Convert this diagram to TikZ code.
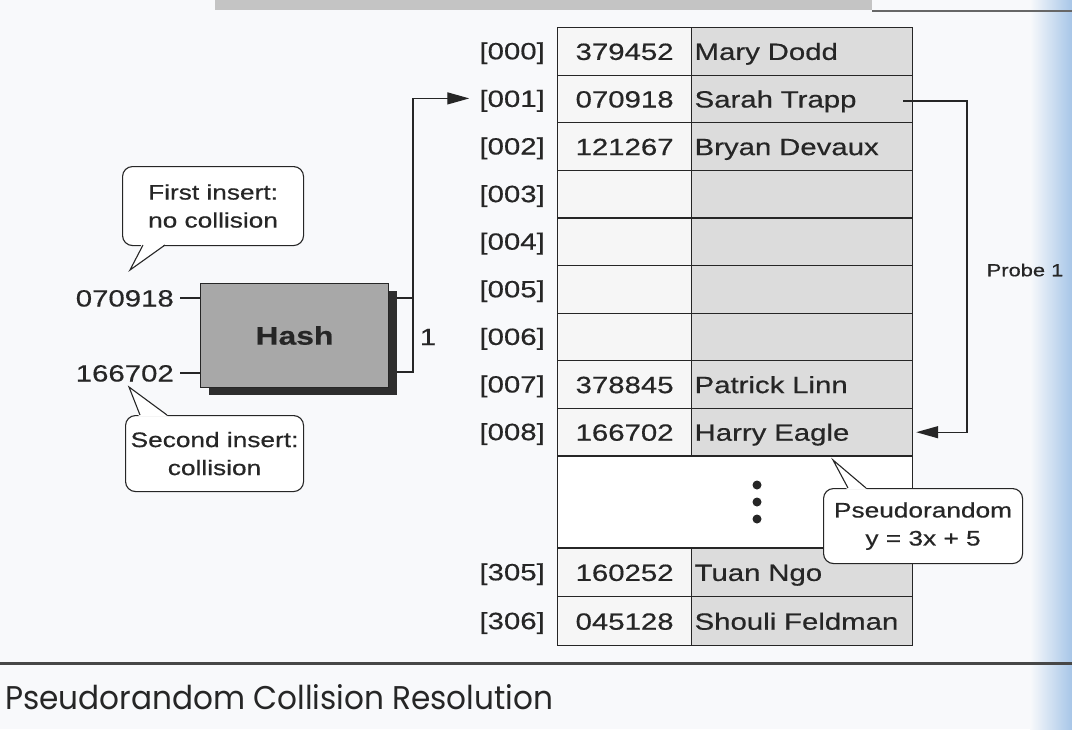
\documentclass[tikz,border=0pt]{standalone}
\usepackage{fontspec}
\setmainfont{Liberation Sans}[FakeStretch=1.25,FakeBold=0.5]
\newfontfamily\capfont{Poppins}
\usepackage{graphicx}
\usetikzlibrary{arrows.meta,calc}
\definecolor{namefill}{HTML}{DCDCDC}
\definecolor{numfill}{HTML}{F6F6F6}
\definecolor{hashfill}{HTML}{A8A8A8}
\definecolor{shadowc}{HTML}{2E2E2E}
\definecolor{ink}{HTML}{262626}
\definecolor{paper}{HTML}{F8F9FB}
\definecolor{scanblue}{HTML}{A7C6E8}
\definecolor{bandgray}{HTML}{C4C4C4}
\begin{document}
\begin{tikzpicture}[x=1pt,y=-1pt,
  every node/.style={text=ink},
  tabtext/.style={font=\fontsize{23.5}{26}\selectfont, text height=17pt, text depth=0pt},
  numcell/.style={draw=ink, line width=1.2pt, fill=numfill, minimum width=134pt, minimum height=47.6pt, inner sep=0pt, anchor=north west, tabtext},
  namecell/.style={draw=ink, line width=1.2pt, fill=namefill, minimum height=47.6pt, text width=215pt, inner xsep=3pt, inner ysep=0pt, align=left, anchor=north west, tabtext},
  idxlabel/.style={anchor=east, inner sep=0pt, tabtext},
  callout/.style={draw=ink, line width=1.1pt, fill=white, rounded corners=10pt, inner sep=0pt, align=center, anchor=north west, font=\fontsize{21}{28}\selectfont},
  conn/.style={draw=ink, line width=1.3pt},
  tip/.style={-{Triangle[length=22pt,width=12pt]}},
  pointer/.style={draw=ink, line width=1.1pt}
]
% background
\fill[paper] (0,0) rectangle (1072,729);
\shade[left color=paper, right color=scanblue] (1030,0) rectangle (1072,729);
\useasboundingbox (0,0) rectangle (1072,729);
\fill[bandgray] (215,0) rectangle (872,10);
\draw[ink!70, line width=1.5pt] (872,11) -- (1072,11);

% table rows 000-008
\foreach \i/\idx/\num/\nm in {0/000/379452/Mary Dodd,1/001/070918/Sarah Trapp,2/002/121267/Bryan Devaux,3/003//,4/004//,5/005//,6/006//,7/007/378845/Patrick Linn,8/008/166702/Harry Eagle}{
  \pgfmathsetmacro\ty{27+\i*47.6}
  \node[numcell] (num\i) at (557,\ty) {\num};
  \node[namecell] (nm\i) at (691,\ty) {\nm};
  \node[idxlabel] (idx\i) at (545,\ty+23.8) {[\idx]};
}
% ellipsis band
\node[draw=ink, line width=1.2pt, fill=white, minimum width=355pt, minimum height=92pt, inner sep=0pt, anchor=north west] (gap) at (557,455.4) {};
\fill[ink] (757,485) circle (4.5pt);
\fill[ink] (757,502) circle (4.5pt);
\fill[ink] (757,519) circle (4.5pt);
% rows 305, 306
\node[numcell, minimum height=48.8pt] (num305) at (557,547.4) {160252};
\node[namecell, minimum height=48.8pt] (nm305) at (691,547.4) {Tuan Ngo};
\node[idxlabel] (idx305) at (545,571.8) {[305]};
\node[numcell, minimum height=48.8pt] (num306) at (557,596.2) {045128};
\node[namecell, minimum height=48.8pt] (nm306) at (691,596.2) {Shouli Feldman};
\node[idxlabel] (idx306) at (545,620.6) {[306]};

% hash box
\fill[shadowc] (209,291) rectangle (397,395);
\node[draw=ink, line width=1pt, fill=hashfill, minimum width=188pt, minimum height=104pt, inner sep=0pt, anchor=north west, font=\bfseries\fontsize{25.5}{28}\selectfont] (hash) at (200,283) {Hash};

% keys
\node[anchor=east, inner sep=0pt, tabtext] (k1) at (174,298) {070918};
\node[anchor=east, inner sep=0pt, tabtext] (k2) at (174,373) {166702};
\draw[conn] ([xshift=6pt]k1.east) -- (k1.east -| hash.west);
\draw[conn] ([xshift=6pt]k2.east) -- (k2.east -| hash.west);

% hash output
\coordinate (o1) at (397,298);
\coordinate (o2) at (397,372);
\draw[conn] (o2) -- (413,372) -- (413,298);
\draw[conn,tip] (o1) -- (413,298) |- ([xshift=-10pt]idx1.west);
\node[inner sep=0pt, font=\fontsize{23.5}{26}\selectfont] (one) at (428,337) {1};

% probe
\coordinate (p0) at (903,101);
\draw[conn,tip] (p0) -- (967,101) |- ([xshift=3pt]nm8.east);
\node[inner sep=0pt, font=\fontsize{17.5}{20}\selectfont] (probe) at (1025,270) {Probe 1};

% callouts
\node[callout, minimum width=181pt, minimum height=79pt] (c1) at (122,166) {First insert:\\no collision};
\fill[white] (142,243.5) -- (130,270) -- (166,243.5) -- cycle;
\draw[pointer] (143,245) -- (130,270) -- (165,245);

\node[callout, minimum width=178pt, minimum height=76pt] (c2) at (125,415) {Second insert:\\collision};
\fill[white] (139,416.5) -- (129,387) -- (168,416.5) -- cycle;
\draw[pointer] (140,415) -- (129,387) -- (167,415);

\node[callout, minimum width=199pt, minimum height=75pt] (c3) at (823,488) {Pseudorandom\\y = 3x + 5};
\fill[white] (847,489.5) -- (833,460) -- (867,489.5) -- cycle;
\draw[pointer] (848,488) -- (833,460) -- (866,488);

% caption
\draw[ink!85, line width=3pt] (0,663) -- (1072,663);
\node[anchor=west, inner sep=0pt] (cap) at (5,697) {\resizebox{548pt}{25pt}{\capfont Pseudorandom Collision Resolution}};
\end{tikzpicture}
\end{document}
